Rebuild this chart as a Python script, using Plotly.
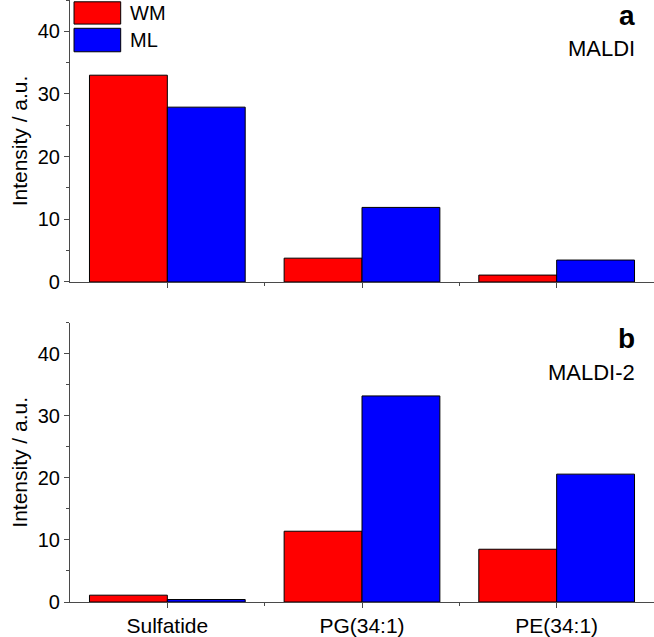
import plotly.graph_objects as go

categories = ["Sulfatide", "PG(34:1)", "PE(34:1)"]
series_names = ["WM", "ML"]
maldi_wm = [33.0, 3.8, 1.1]
maldi_ml = [27.9, 11.9, 3.5]
maldi2_wm = [1.1, 11.4, 8.5]
maldi2_ml = [0.4, 33.2, 20.6]
y_ticks = [0, 10, 20, 30, 40]
panel_labels = ["a", "b"]
panel_titles = ["MALDI", "MALDI-2"]

colors = {"WM": "#FF0000", "ML": "#0000FF"}
FONT = "Liberation Sans, Arial, sans-serif"
AX = "#4a4a4a"

xpos = list(range(len(categories)))
minor_x = [i + 0.5 for i in xpos[:-1]]

fig = go.Figure()
data = [("y", maldi_wm, maldi_ml, "x"), ("y2", maldi2_wm, maldi2_ml, "x2")]
for yref, wm, ml, xref in data:
    for name, vals in zip(series_names, [wm, ml]):
        fig.add_trace(go.Bar(
            x=xpos, y=vals, name=name, xaxis=xref, yaxis=yref,
            marker=dict(color=colors[name], line=dict(color="black", width=1)),
            showlegend=False,
        ))

yax = dict(range=[0, 45], tickvals=y_ticks, ticks="outside", ticklen=5, tickwidth=1,
           tickcolor=AX, showline=True, linecolor=AX, linewidth=1.2, showgrid=False,
           zeroline=False, tickfont=dict(family=FONT, size=20, color="black"),
           minor=dict(tickvals=[5, 15, 25, 35, 45], ticks="outside", ticklen=3, tickcolor=AX),
           title=dict(text="Intensity / a.u.", font=dict(family=FONT, size=21, color="black"), standoff=4))
xax = dict(range=[-0.5, 2.5], tickvals=xpos, ticktext=categories, ticks="outside", ticklen=5,
           tickwidth=1, tickcolor=AX, showline=True, linecolor=AX, linewidth=1.2, showgrid=False,
           zeroline=False, tickfont=dict(family=FONT, size=21, color="black"),
           minor=dict(tickvals=minor_x, ticks="outside", ticklen=3, tickcolor=AX))

fig.update_layout(
    width=654, height=637,
    margin=dict(l=70, r=0, t=0, b=35),
    paper_bgcolor="white", plot_bgcolor="white",
    barmode="group", bargap=0.2, bargroupgap=0,
    xaxis=dict(xax, domain=[0, 1], anchor="y", showticklabels=False),
    yaxis=dict(yax, domain=[0.5316, 1], anchor="x"),
    xaxis2=dict(xax, domain=[0, 1], anchor="y2"),
    yaxis2=dict(yax, domain=[0, 0.464], anchor="x2"),
    font=dict(family=FONT, color="black"),
)

# panel labels
for lab, title, ylab, ytit in zip(panel_labels, panel_titles, [0.975, 0.437], [0.920, 0.381]):
    fig.add_annotation(xref="paper", yref="paper", x=0.971, y=ylab, text="<b>%s</b>" % lab,
                       showarrow=False, xanchor="right", yanchor="middle",
                       font=dict(family=FONT, size=28, color="black"))
    fig.add_annotation(xref="paper", yref="paper", x=0.971, y=ytit, text=title,
                       showarrow=False, xanchor="right", yanchor="middle",
                       font=dict(family=FONT, size=22, color="black"))

# legend drawn as boxes
leg_y = [(0.997, 0.960, 0.978), (0.953, 0.914, 0.934)]
for name, (y1, y0, yc) in zip(series_names, leg_y):
    fig.add_shape(type="rect", xref="paper", yref="paper", x0=0.0069, x1=0.0868, y0=y0, y1=y1,
                  fillcolor=colors[name], line=dict(color="black", width=1))
    fig.add_annotation(xref="paper", yref="paper", x=0.1, y=yc, text=name, showarrow=False,
                       xanchor="left", yanchor="middle", font=dict(family=FONT, size=20, color="black"))

fig.write_html("out.html", config={"displayModeBar": False},
               post_script="document.body.style.margin='0';document.body.style.overflow='hidden';")
